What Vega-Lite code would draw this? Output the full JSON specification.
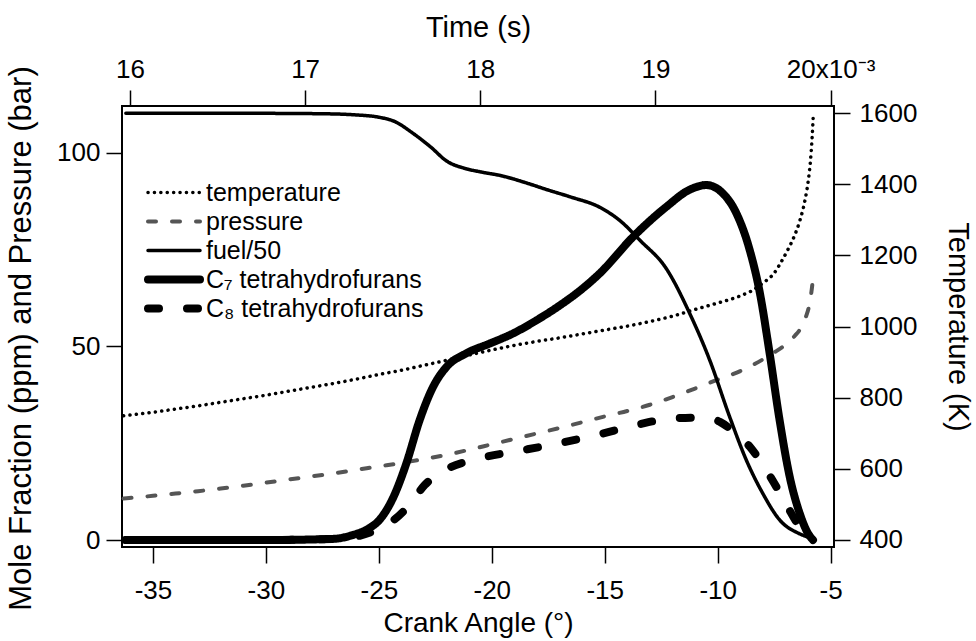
{
"$schema": "https://vega.github.io/schema/vega-lite/v6.json",
"width": 712, "height": 441,
"autosize": {"type": "none"},
"padding": {"left": 122, "top": 106, "right": 142, "bottom": 94},
"background": "white",
"config": {
  "view": {"stroke": "black", "strokeWidth": 2},
  "axis": {"labelFont": "Liberation Sans", "titleFont": "Liberation Sans", "labelFontSize": 26, "titleFontSize": 29, "titleFontWeight": "normal", "labelColor": "black", "titleColor": "black", "tickColor": "black", "tickWidth": 1.5, "tickSize": 16, "domain": false, "grid": false, "labelFlush": false, "labelOverlap": false, "labelExpr": "'' + datum.value"},
  "legend": {"title": null, "orient": "none", "legendX": 39.5, "legendY": 74, "symbolType": "M-52,0H52", "symbolSize": 1, "labelFont": "Liberation Sans, DejaVu Sans", "labelFontSize": 25, "labelColor": "black", "labelOffset": 19.5, "labelLimit": 400, "gridAlign": "all", "rowPadding": -5.9, "padding": 0}
},
"data": {"values": [
{"s":"temperature","ca":-36.3,"v":749},{"s":"temperature","ca":-35,"v":759},{"s":"temperature","ca":-34,"v":768},{"s":"temperature","ca":-33,"v":777},{"s":"temperature","ca":-32,"v":787},{"s":"temperature","ca":-31,"v":797},{"s":"temperature","ca":-30,"v":807},{"s":"temperature","ca":-29,"v":818},{"s":"temperature","ca":-28,"v":829},{"s":"temperature","ca":-27,"v":840},{"s":"temperature","ca":-26,"v":852},{"s":"temperature","ca":-25,"v":865},{"s":"temperature","ca":-24,"v":877},{"s":"temperature","ca":-23,"v":891},{"s":"temperature","ca":-22,"v":905},{"s":"temperature","ca":-21,"v":920},{"s":"temperature","ca":-20,"v":934},{"s":"temperature","ca":-19,"v":947},{"s":"temperature","ca":-18,"v":958},{"s":"temperature","ca":-17,"v":968},{"s":"temperature","ca":-16,"v":979},{"s":"temperature","ca":-15,"v":990},{"s":"temperature","ca":-14,"v":1001},{"s":"temperature","ca":-13,"v":1014},{"s":"temperature","ca":-12,"v":1029},{"s":"temperature","ca":-11,"v":1048},{"s":"temperature","ca":-10,"v":1066},{"s":"temperature","ca":-9,"v":1086},{"s":"temperature","ca":-8.5,"v":1100},{"s":"temperature","ca":-8,"v":1122},{"s":"temperature","ca":-7.5,"v":1150},{"s":"temperature","ca":-7.2,"v":1180},{"s":"temperature","ca":-6.9,"v":1215},{"s":"temperature","ca":-6.6,"v":1255},{"s":"temperature","ca":-6.35,"v":1300},{"s":"temperature","ca":-6.15,"v":1350},{"s":"temperature","ca":-6.0,"v":1405},{"s":"temperature","ca":-5.9,"v":1460},{"s":"temperature","ca":-5.82,"v":1530},{"s":"temperature","ca":-5.77,"v":1590},
{"s":"pressure","ca":-36.3,"v":10.7},{"s":"pressure","ca":-35,"v":11.4},{"s":"pressure","ca":-34,"v":12.0},{"s":"pressure","ca":-33,"v":12.6},{"s":"pressure","ca":-32,"v":13.3},{"s":"pressure","ca":-31,"v":14.0},{"s":"pressure","ca":-30,"v":14.8},{"s":"pressure","ca":-29,"v":15.6},{"s":"pressure","ca":-28,"v":16.4},{"s":"pressure","ca":-27,"v":17.2},{"s":"pressure","ca":-26,"v":18.1},{"s":"pressure","ca":-25,"v":19.0},{"s":"pressure","ca":-24,"v":19.9},{"s":"pressure","ca":-23,"v":20.9},{"s":"pressure","ca":-22,"v":22.0},{"s":"pressure","ca":-21,"v":23.3},{"s":"pressure","ca":-20,"v":24.7},{"s":"pressure","ca":-19,"v":26.1},{"s":"pressure","ca":-18,"v":27.5},{"s":"pressure","ca":-17,"v":28.9},{"s":"pressure","ca":-16,"v":30.4},{"s":"pressure","ca":-15,"v":31.9},{"s":"pressure","ca":-14,"v":33.3},{"s":"pressure","ca":-13,"v":34.9},{"s":"pressure","ca":-12,"v":36.9},{"s":"pressure","ca":-11,"v":39.1},{"s":"pressure","ca":-10,"v":41.4},{"s":"pressure","ca":-9,"v":43.6},{"s":"pressure","ca":-8.5,"v":45.0},{"s":"pressure","ca":-8,"v":46.6},{"s":"pressure","ca":-7.5,"v":48.4},{"s":"pressure","ca":-7,"v":50.4},{"s":"pressure","ca":-6.6,"v":52.6},{"s":"pressure","ca":-6.3,"v":54.9},{"s":"pressure","ca":-6.1,"v":57.5},{"s":"pressure","ca":-5.95,"v":60.5},{"s":"pressure","ca":-5.85,"v":64.0},{"s":"pressure","ca":-5.78,"v":67.5},
{"s":"fuel/50","ca":-36.2,"v":110.1},{"s":"fuel/50","ca":-30,"v":110.1},{"s":"fuel/50","ca":-27.5,"v":110.0},{"s":"fuel/50","ca":-26,"v":109.7},{"s":"fuel/50","ca":-25,"v":109.1},{"s":"fuel/50","ca":-24.3,"v":108},{"s":"fuel/50","ca":-23.5,"v":105},{"s":"fuel/50","ca":-22.7,"v":101.4},{"s":"fuel/50","ca":-22.0,"v":97.8},{"s":"fuel/50","ca":-21.2,"v":95.9},{"s":"fuel/50","ca":-20.5,"v":95.0},{"s":"fuel/50","ca":-19.5,"v":93.9},{"s":"fuel/50","ca":-18.5,"v":92.2},{"s":"fuel/50","ca":-17.5,"v":90.3},{"s":"fuel/50","ca":-16.5,"v":88.5},{"s":"fuel/50","ca":-15.2,"v":85.8},{"s":"fuel/50","ca":-14.3,"v":82.3},{"s":"fuel/50","ca":-13.45,"v":77.4},{"s":"fuel/50","ca":-12.27,"v":70.0},{"s":"fuel/50","ca":-11.24,"v":58.5},{"s":"fuel/50","ca":-10.35,"v":46.4},{"s":"fuel/50","ca":-9.47,"v":31.8},{"s":"fuel/50","ca":-8.73,"v":20.6},{"s":"fuel/50","ca":-8.01,"v":12.1},{"s":"fuel/50","ca":-7.26,"v":5.2},{"s":"fuel/50","ca":-6.37,"v":1.6},{"s":"fuel/50","ca":-5.79,"v":0.4},
{"s":"C₇ tetrahydrofurans","ca":-36.2,"v":0},{"s":"C₇ tetrahydrofurans","ca":-30,"v":0},{"s":"C₇ tetrahydrofurans","ca":-27,"v":0.3},{"s":"C₇ tetrahydrofurans","ca":-26.15,"v":1.3},{"s":"C₇ tetrahydrofurans","ca":-25.5,"v":2.8},{"s":"C₇ tetrahydrofurans","ca":-24.97,"v":5.2},{"s":"C₇ tetrahydrofurans","ca":-24.4,"v":10.5},{"s":"C₇ tetrahydrofurans","ca":-23.78,"v":19.8},{"s":"C₇ tetrahydrofurans","ca":-23.19,"v":31},{"s":"C₇ tetrahydrofurans","ca":-22.6,"v":39.5},{"s":"C₇ tetrahydrofurans","ca":-22.0,"v":44.7},{"s":"C₇ tetrahydrofurans","ca":-21.12,"v":48.2},{"s":"C₇ tetrahydrofurans","ca":-20.09,"v":50.7},{"s":"C₇ tetrahydrofurans","ca":-19.06,"v":53.3},{"s":"C₇ tetrahydrofurans","ca":-18.02,"v":56.7},{"s":"C₇ tetrahydrofurans","ca":-17,"v":60.5},{"s":"C₇ tetrahydrofurans","ca":-16,"v":64.8},{"s":"C₇ tetrahydrofurans","ca":-15.22,"v":68.8},{"s":"C₇ tetrahydrofurans","ca":-13.75,"v":78.2},{"s":"C₇ tetrahydrofurans","ca":-12.27,"v":86},{"s":"C₇ tetrahydrofurans","ca":-11.24,"v":90.4},{"s":"C₇ tetrahydrofurans","ca":-10.5,"v":91.6},{"s":"C₇ tetrahydrofurans","ca":-9.76,"v":89.4},{"s":"C₇ tetrahydrofurans","ca":-9.17,"v":84.3},{"s":"C₇ tetrahydrofurans","ca":-8.58,"v":74.8},{"s":"C₇ tetrahydrofurans","ca":-8.14,"v":64.0},{"s":"C₇ tetrahydrofurans","ca":-7.70,"v":48.2},{"s":"C₇ tetrahydrofurans","ca":-7.26,"v":31},{"s":"C₇ tetrahydrofurans","ca":-6.81,"v":16.3},{"s":"C₇ tetrahydrofurans","ca":-6.37,"v":6.9},{"s":"C₇ tetrahydrofurans","ca":-6.0,"v":1.7},{"s":"C₇ tetrahydrofurans","ca":-5.78,"v":0},
{"s":"C₈ tetrahydrofurans","ca":-36.2,"v":0},{"s":"C₈ tetrahydrofurans","ca":-30,"v":0},{"s":"C₈ tetrahydrofurans","ca":-27,"v":0.3},{"s":"C₈ tetrahydrofurans","ca":-26,"v":0.9},{"s":"C₈ tetrahydrofurans","ca":-25.1,"v":2.6},{"s":"C₈ tetrahydrofurans","ca":-24.5,"v":4.5},{"s":"C₈ tetrahydrofurans","ca":-23.93,"v":7.3},{"s":"C₈ tetrahydrofurans","ca":-23.4,"v":11},{"s":"C₈ tetrahydrofurans","ca":-22.97,"v":14.2},{"s":"C₈ tetrahydrofurans","ca":-22.4,"v":16.8},{"s":"C₈ tetrahydrofurans","ca":-21.79,"v":18.9},{"s":"C₈ tetrahydrofurans","ca":-21,"v":20.4},{"s":"C₈ tetrahydrofurans","ca":-20.24,"v":21.5},{"s":"C₈ tetrahydrofurans","ca":-18.62,"v":23.2},{"s":"C₈ tetrahydrofurans","ca":-16.92,"v":25.1},{"s":"C₈ tetrahydrofurans","ca":-15.22,"v":27.3},{"s":"C₈ tetrahydrofurans","ca":-13.6,"v":29.7},{"s":"C₈ tetrahydrofurans","ca":-11.98,"v":31.4},{"s":"C₈ tetrahydrofurans","ca":-10.8,"v":31.6},{"s":"C₈ tetrahydrofurans","ca":-10.35,"v":31.4},{"s":"C₈ tetrahydrofurans","ca":-9.9,"v":30.5},{"s":"C₈ tetrahydrofurans","ca":-9.3,"v":28},{"s":"C₈ tetrahydrofurans","ca":-8.58,"v":24.1},{"s":"C₈ tetrahydrofurans","ca":-8.0,"v":19.4},{"s":"C₈ tetrahydrofurans","ca":-7.4,"v":13.7},{"s":"C₈ tetrahydrofurans","ca":-6.9,"v":8.5},{"s":"C₈ tetrahydrofurans","ca":-6.37,"v":3.4},{"s":"C₈ tetrahydrofurans","ca":-6.0,"v":1.0},{"s":"C₈ tetrahydrofurans","ca":-5.79,"v":0}
]},
"layer": [
  {
    "transform": [{"filter": "datum.s !== 'temperature'"}],
    "mark": {"type": "line", "strokeCap": "round", "interpolate": "monotone"},
    "encoding": {
      "x": {"field": "ca", "type": "quantitative", "scale": {"domain": [-36.37, -4.85], "nice": false, "zero": false}, "axis": {"orient": "bottom", "values": [-35,-30,-25,-20,-15,-10,-5], "title": "Crank Angle (°)", "titleFontSize": 28, "labelPadding": 14, "titlePadding": 6}},
      "y": {"field": "v", "type": "quantitative", "scale": {"domain": [-1.8, 112], "nice": false, "zero": false}, "axis": {"orient": "left", "values": [0,50,100], "title": "Mole Fraction (ppm) and Pressure (bar)", "titleFontSize": 31, "labelPadding": 6, "titleX": -85, "titleY": 232}},
      "color": {"field": "s", "type": "nominal", "scale": {"domain": ["temperature","pressure","fuel/50","C₇ tetrahydrofurans","C₈ tetrahydrofurans"], "range": ["#000000","#555555","#000000","#000000","#000000"]}, "legend": {"encode": {"symbols": {"update": {"strokeCap": {"value": "round"}}}}}},
      "strokeDash": {"field": "s", "type": "nominal", "scale": {"domain": ["temperature","pressure","fuel/50","C₇ tetrahydrofurans","C₈ tetrahydrofurans"], "range": [[0.1,6.3],[8,16],[1,0],[1,0],[11,28]]}, "legend": {"encode": {"symbols": {"update": {"strokeCap": {"value": "round"}}}}}},
      "strokeWidth": {"field": "s", "type": "nominal", "scale": {"type": "ordinal", "domain": ["temperature","pressure","fuel/50","C₇ tetrahydrofurans","C₈ tetrahydrofurans"], "range": [3.5,4,3.5,8,8]}, "legend": {"encode": {"symbols": {"update": {"strokeCap": {"value": "round"}}}}}}
    }
  },
  {
    "transform": [{"filter": "datum.s === 'temperature'"}],
    "mark": {"type": "line", "strokeCap": "round", "interpolate": "monotone"},
    "encoding": {
      "x": {"field": "ca", "type": "quantitative", "scale": {"domain": [-36.37, -4.85], "nice": false, "zero": false}, "axis": {"orient": "top", "values": [-36.02,-28.265,-20.51,-12.755,-5.0], "labelExpr": "datum.value < -33 ? '16' : datum.value < -25 ? '17' : datum.value < -17 ? '18' : datum.value < -9 ? '19' : '20x10⁻³'", "title": "Time (s)", "labelPadding": 8, "titlePadding": 14}},
      "y": {"field": "v", "type": "quantitative", "scale": {"domain": [380.3, 1619.7], "nice": false, "zero": false}, "axis": {"orient": "right", "values": [400,600,800,1000,1200,1400,1600], "title": "Temperature (K)", "labelPadding": 9, "titlePadding": 26}},
      "color": {"field": "s", "type": "nominal", "scale": {"domain": ["temperature","pressure","fuel/50","C₇ tetrahydrofurans","C₈ tetrahydrofurans"], "range": ["#000000","#555555","#000000","#000000","#000000"]}},
      "strokeDash": {"field": "s", "type": "nominal", "scale": {"domain": ["temperature","pressure","fuel/50","C₇ tetrahydrofurans","C₈ tetrahydrofurans"], "range": [[0.1,6.3],[8,16],[1,0],[1,0],[11,28]]}},
      "strokeWidth": {"field": "s", "type": "nominal", "scale": {"type": "ordinal", "domain": ["temperature","pressure","fuel/50","C₇ tetrahydrofurans","C₈ tetrahydrofurans"], "range": [3.5,4,3.5,8,8]}}
    }
  }
],
"resolve": {"scale": {"x": "independent", "y": "independent"}}
}
